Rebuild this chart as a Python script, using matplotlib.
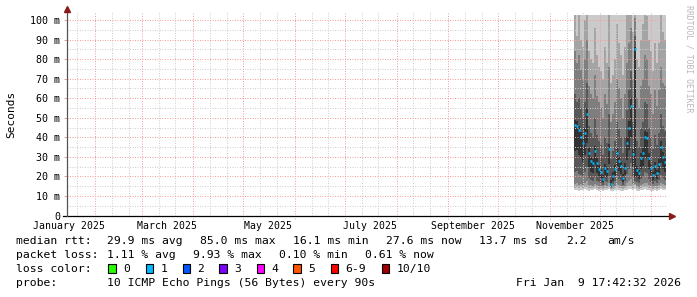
import matplotlib
matplotlib.use('Agg')
import matplotlib.pyplot as plt
import matplotlib.dates as mdates
from matplotlib.patches import Rectangle
import numpy as np
import pandas as pd

# smokeping "last 360 days" graph
graph_end = pd.Timestamp('2026-01-09 17:42:32')
graph_start = graph_end - pd.Timedelta(days=360)
first_sample = pd.Timestamp('2025-11-15 12:54:32')
sample_step = '28h48min'

# median rtt per consolidated sample (ms)
median = [46.5, 46.0, 43.5, 40.0, 37.0, 42.0, 52.0, 32.0, 28.0, 27.0,
          33.0, 27.0, 24.0, 22.0, 18.5, 24.5, 23.0, 34.0, 16.1, 20.0,
          24.0, 32.0, 28.0, 25.5, 19.0, 24.5, 37.0, 45.0, 56.0, 31.5,
          85.0, 23.5, 21.5, 29.5, 32.0, 40.0, 39.5, 29.5, 24.5, 20.5,
          25.5, 21.5, 26.5, 35.0, 30.0, 27.6]

# sorted pings (smoke), ms
ping1 = [12.8, 13.0, 12.6, 13.2, 12.9, 13.4, 13.0, 12.7, 13.1, 12.8,
         13.3, 12.9, 12.6, 13.0, 12.4, 12.8, 13.1, 13.5, 12.5, 12.7,
         13.0, 13.2, 12.9, 12.6, 12.4, 12.8, 13.1, 13.6, 13.3, 12.9,
         13.8, 12.6, 12.5, 12.9, 13.2, 13.4, 13.0, 12.8, 12.6, 12.5,
         12.9, 12.7, 13.0, 13.3, 13.1, 12.9]
ping2 = [14.2, 14.5, 14.0, 14.4, 14.1, 14.6, 14.8, 13.9, 14.2, 14.0,
         14.5, 14.1, 13.8, 14.0, 13.5, 14.2, 14.1, 14.6, 13.4, 13.8,
         14.1, 14.5, 14.2, 13.9, 13.6, 14.0, 14.6, 15.0, 15.2, 14.3,
         15.5, 13.9, 13.7, 14.1, 14.4, 14.6, 14.5, 14.1, 13.9, 13.6,
         14.0, 13.8, 14.2, 14.6, 14.3, 14.1]
ping3 = [16.0, 16.4, 15.8, 16.2, 15.6, 16.8, 17.5, 15.4, 15.6, 15.3,
         16.2, 15.4, 15.0, 15.1, 14.4, 15.5, 15.2, 16.4, 14.2, 14.6,
         15.3, 16.2, 15.6, 15.1, 14.5, 15.2, 16.8, 17.8, 18.5, 16.2,
         16.0, 15.0, 14.8, 15.8, 16.2, 16.8, 16.6, 15.8, 15.1, 14.6,
         15.3, 14.9, 15.5, 16.4, 15.9, 15.6]
ping4 = [22.0, 23.0, 21.0, 20.5, 19.5, 22.0, 25.0, 19.0, 18.0, 17.8,
         19.5, 17.8, 17.0, 16.8, 15.5, 17.6, 17.2, 20.0, 14.8, 16.0,
         17.5, 20.0, 18.5, 17.6, 15.8, 17.5, 21.0, 24.0, 27.0, 19.5,
         17.5, 17.0, 16.5, 18.8, 19.5, 22.0, 21.5, 18.8, 17.2, 16.2,
         17.8, 16.6, 18.2, 20.5, 19.0, 18.4]
ping5 = [33.0, 33.4, 31.1, 29.3, 27.4, 31.0, 37.2, 24.9, 22.5, 21.9,
         25.6, 21.9, 20.2, 19.1, 16.9, 20.7, 19.8, 26.3, 15.4, 17.8,
         20.4, 25.4, 22.8, 21.2, 17.2, 20.7, 28.2, 33.5, 40.0, 24.9,
         19.5, 19.9, 18.8, 23.6, 25.1, 30.1, 29.6, 23.6, 20.5, 18.1,
         21.3, 18.8, 21.9, 27.0, 24.0, 22.5]
ping6 = [49.0, 48.5, 46.0, 42.5, 39.5, 45.0, 55.0, 34.5, 30.0, 29.0,
         35.5, 29.5, 26.0, 24.0, 20.5, 26.5, 25.0, 36.5, 18.0, 22.0,
         26.0, 34.5, 30.0, 27.5, 21.0, 27.0, 40.0, 48.5, 60.0, 34.0,
         86.0, 25.5, 23.5, 32.0, 34.5, 43.0, 42.5, 32.0, 26.5, 22.5,
         27.5, 23.5, 29.0, 38.0, 32.5, 30.0]
ping7 = [62.0, 58.0, 60.0, 55.0, 50.0, 58.0, 68.0, 46.0, 42.0, 40.0,
         50.0, 41.0, 38.0, 36.0, 31.0, 40.0, 37.0, 52.0, 29.0, 33.0,
         38.0, 48.0, 44.0, 40.0, 32.0, 40.0, 54.0, 64.0, 74.0, 48.0,
         92.0, 38.0, 35.0, 45.0, 48.0, 58.0, 57.0, 45.0, 40.0, 34.0,
         41.0, 36.0, 42.0, 52.0, 46.0, 43.0]
ping8 = [84.0, 78.0, 82.0, 75.0, 70.0, 80.0, 90.0, 66.0, 62.0, 60.0,
         72.0, 61.0, 58.0, 55.0, 50.0, 62.0, 57.0, 76.0, 48.0, 52.0,
         58.0, 70.0, 65.0, 60.0, 50.0, 62.0, 78.0, 88.0, 96.0, 70.0,
         101.0, 60.0, 55.0, 66.0, 70.0, 82.0, 80.0, 66.0, 62.0, 52.0,
         64.0, 56.0, 64.0, 76.0, 68.0, 66.0]
ping9 = [104.0, 92.0, 106.0, 90.0, 86.0, 100.0, 108.0, 84.0, 80.0, 78.0,
         96.0, 82.0, 76.0, 74.0, 70.0, 86.0, 78.0, 104.0, 68.0, 72.0,
         80.0, 98.0, 88.0, 82.0, 72.0, 86.0, 106.0, 108.0, 110.0, 94.0,
         110.0, 80.0, 76.0, 90.0, 98.0, 104.0, 102.0, 90.0, 84.0, 74.0,
         88.0, 78.0, 88.0, 104.0, 94.0, 90.0]
ping10 = [130.0, 125.0, 140.0, 120.0, 118.0, 135.0, 150.0, 115.0, 112.0, 110.0,
          128.0, 114.0, 110.0, 108.0, 106.0, 118.0, 112.0, 140.0, 105.0, 108.0,
          115.0, 130.0, 122.0, 116.0, 107.0, 120.0, 140.0, 150.0, 160.0, 126.0,
          170.0, 114.0, 110.0, 124.0, 130.0, 145.0, 142.0, 122.0, 116.0, 108.0,
          120.0, 112.0, 121.0, 138.0, 126.0, 122.0]

y_ticks = [0, 10, 20, 30, 40, 50, 60, 70, 80, 90, 100]
y_labels = ['0', '10 m', '20 m', '30 m', '40 m', '50 m', '60 m', '70 m', '80 m', '90 m', '100 m']
x_labels = ['January 2025', 'March 2025', 'May 2025', 'July 2025', 'September 2025', 'November 2025']
x_label_dates = ['2025-01-16', '2025-03-16', '2025-05-16', '2025-07-16', '2025-09-16', '2025-11-16']

loss_labels = ['0', '1', '2', '3', '4', '5', '6-9', '10/10']
loss_colors = ['#26ff00', '#00b8ff', '#0059ff', '#7e00ff', '#ff00ff', '#ff5500', '#ff0000', '#a10000']

W, H = 697, 297
MONO = 'DejaVu Sans Mono'

fig = plt.figure(figsize=(W / 100, H / 100), dpi=100)
fig.patch.set_facecolor('white')
ax = fig.add_axes([66.5 / W, (H - 215.5) / H, (666 - 66.5) / W, (215.5 - 15) / H])
ax.set_facecolor('white')
for s in ax.spines.values():
    s.set_visible(False)

x0 = mdates.date2num(graph_start)
x1 = mdates.date2num(graph_end)
ax.set_xlim(x0, x1)
ax.set_ylim(0, 102.56)

# smoke
times = pd.date_range(first_sample, periods=len(median), freq=sample_step)
edges = np.append(mdates.date2num(times), x1)
pings = [ping1, ping2, ping3, ping4, ping5, ping6, ping7, ping8, ping9, ping10]
shades = ['#cacaca', '#a4a4a4', '#7e7e7e', '#585858', '#323232']
for i in range(5):
    lo = np.append(pings[i], pings[i][-1])
    hi = np.append(pings[9 - i], pings[9 - i][-1])
    ax.fill_between(edges, lo, hi, step='post', color=shades[i], linewidth=0, zorder=2)

# grid (drawn over the smoke, like rrdtool)
grid_ls = (0, (1, 1.5))
for m in range(5, 101, 5):
    if m % 10:
        ax.axhline(m, color='#cfcfcf', lw=0.72, ls=grid_ls, zorder=3)
for m in range(10, 101, 10):
    ax.axhline(m, color='#f0a0a0', lw=0.72, ls=grid_ls, zorder=4)

month_starts = pd.date_range('2025-01-01', '2026-01-01', freq='MS')
for ms in month_starts:
    for d in (10, 20):
        t = mdates.date2num(ms + pd.Timedelta(days=d))
        if x0 < t < x1:
            ax.axvline(t, ymax=1.017, color='#cfcfcf', lw=0.72, ls=grid_ls, zorder=3, clip_on=False)
for ms in month_starts:
    t = mdates.date2num(ms)
    if x0 < t < x1:
        ax.axvline(t, ymin=-0.015, ymax=1.017, color='#f0a0a0', lw=0.72, ls=grid_ls, zorder=4, clip_on=False)

# median rtt, coloured by loss
ax.hlines(median, edges[:-1], edges[1:], color='#00b8ff', lw=1.8, zorder=5)

# axes lines with arrows
ax.plot([x0 - 2.2, x1 + 2.4], [0, 0], color='black', lw=0.9, clip_on=False, zorder=6)
ax.plot([x0, x0], [0, 105], color='#555555', lw=0.9, clip_on=False, zorder=6)
ax.plot([x1 + 3.6], [0], marker='>', ms=4.5, color='#8b1a1a', clip_on=False, zorder=7)
ax.plot([x0], [105.5], marker='^', ms=4.5, color='#8b1a1a', clip_on=False, zorder=7)

# ticks
ax.set_yticks(y_ticks)
ax.set_yticklabels(y_labels, fontfamily=MONO, fontsize=7.2)
ax.tick_params(axis='y', length=2.2, width=0.72, color='#f0a0a0', pad=2.2)
ax.set_xticks(mdates.date2num(pd.to_datetime(x_label_dates)))
ax.set_xticklabels(x_labels, fontfamily=MONO, fontsize=7.1)
ax.tick_params(axis='x', length=0, pad=4.2)

fig.text(11 / W, 1 - 114.5 / H, 'Seconds', rotation=90, ha='center', va='center',
         fontfamily=MONO, fontsize=8)
fig.text(689 / W, 1 - 58.5 / H, 'RRDTOOL / TOBI OETIKER', rotation=-90, ha='center', va='center',
         fontfamily=MONO, fontsize=5.9, color='#b8b8b8')


def legend_text(x, y, s, ha='left'):
    fig.text(x / W, 1 - y / H, s, ha=ha, va='center', fontfamily=MONO, fontsize=8.2)


legend_text(16, 241.3, 'median rtt:')
for x, s in zip([107.3, 200.3, 293.3, 386.3, 479.3],
                ['29.9 ms avg', '85.0 ms max', '16.1 ms min', '27.6 ms now', '13.7 ms sd']):
    legend_text(x, 241.3, s)
legend_text(566, 241.3, '2.2')
legend_text(607.3, 241.3, 'am/s')

legend_text(16, 255.3, 'packet loss:')
for x, s in zip([107.3, 193.3, 279.3, 365.3],
                ['1.11 % avg', '9.93 % max', '0.10 % min', '0.61 % now']):
    legend_text(x, 255.3, s)

legend_text(16, 268.7, 'loss color:')
box_x = [108.3, 145.7, 182.7, 219.3, 256.7, 293.3, 330.5, 381.7]
for bx, lab, col in zip(box_x, loss_labels, loss_colors):
    fig.add_artist(Rectangle((bx / W, 1 - 273.2 / H), 7.5 / W, 9 / H, transform=fig.transFigure,
                             facecolor=col, edgecolor='black', lw=0.8))
    legend_text(bx + 14.8, 268.7, lab)

legend_text(16, 283.3, 'probe:')
legend_text(107.3, 283.3, '10 ICMP Echo Pings (56 Bytes) every 90s')
legend_text(680.5, 283.3, 'Fri Jan  9 17:42:32 2026', ha='right')

fig.savefig('out.png', dpi=100, facecolor='white')
